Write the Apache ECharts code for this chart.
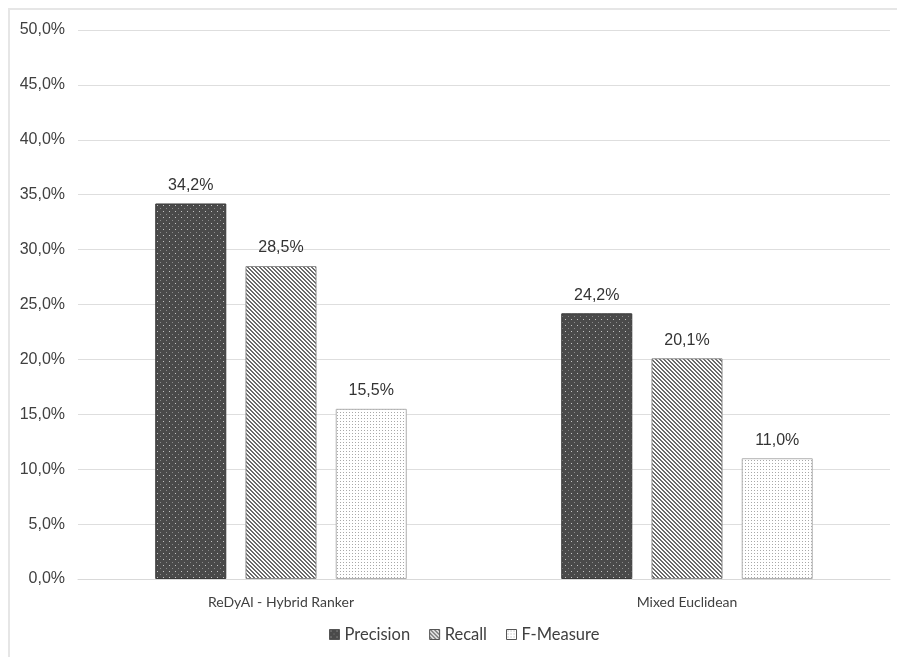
<!DOCTYPE html>
<html><head><meta charset="utf-8">
<script src="https://cdn.jsdelivr.net/npm/echarts@6/dist/echarts.min.js"></script>
<style>html,body{margin:0;padding:0;background:#fff}#c{width:897px;height:657px}</style>
</head><body><div id="c"></div>
<script>
const categories = ['ReDyAl - Hybrid Ranker', 'Mixed Euclidean'];
const seriesNames = ['Precision', 'Recall', 'F-Measure'];
const precision = [34.2, 24.2];
const recall = [28.5, 20.1];
const fmeasure = [15.5, 11.0];
const yTicks = {min: 0, max: 50, interval: 5};

function pat(kind) {
  const c = document.createElement('canvas');
  const ctx = c.getContext('2d');
  if (kind === 'dots') {
    c.width = 6; c.height = 6;
    ctx.fillStyle = '#4a4a4a'; ctx.fillRect(0, 0, 6, 6);
    ctx.fillStyle = '#c4c4c4'; ctx.fillRect(1, 1, 1, 1);
    ctx.fillStyle = '#8a8a8a'; ctx.fillRect(4, 4, 1, 1);
  } else if (kind === 'stripes') {
    c.width = 4; c.height = 4;
    ctx.fillStyle = '#ffffff'; ctx.fillRect(0, 0, 4, 4);
    ctx.fillStyle = '#6b6b6b';
    for (let i = 0; i < 4; i++) { ctx.fillRect(i, i, 1, 1); ctx.fillRect((i + 1) % 4, i, 1, 1); }
  } else {
    c.width = 3; c.height = 3;
    ctx.fillStyle = '#ffffff'; ctx.fillRect(0, 0, 3, 3);
    ctx.fillStyle = '#a8a8a8'; ctx.fillRect(1, 1, 1, 1);
  }
  return {image: c, repeat: 'repeat'};
}

const styles = [
  {color: pat('dots'), borderColor: '#3a3a3a'},
  {color: pat('stripes'), borderColor: '#8c8c8c'},
  {color: pat('fine'), borderColor: '#b0b0b0'}
];
const datasets = [precision, recall, fmeasure];
const fmt = v => v.toFixed(1).replace('.', ',') + '%';

const chart = echarts.init(document.getElementById('c'), null, {renderer: 'canvas'});
chart.setOption({
  animation: false,
  backgroundColor: '#fff',
  graphic: [{type: 'rect', shape: {x: 9, y: 9, width: 895, height: 660}, style: {fill: 'none', stroke: '#e6e6e6', lineWidth: 2}, silent: true}],
  grid: {left: 78, right: 7, top: 30, bottom: 78},
  legend: {
    bottom: 9, left: 324, itemWidth: 10, itemHeight: 10, itemGap: 19,
    textStyle: {fontFamily: 'Lato', fontSize: 16.5, color: '#404040'},
    data: seriesNames.map((n, i) => ({name: n, icon: 'rect', itemStyle: {color: styles[i].color, borderColor: '#555', borderWidth: 1}}))
  },
  xAxis: {
    type: 'category', data: categories,
    axisLine: {lineStyle: {color: '#d9d9d9'}}, axisTick: {show: false},
    axisLabel: {fontFamily: 'Lato', fontSize: 14, color: '#404040', margin: 16}
  },
  yAxis: {
    type: 'value', min: yTicks.min, max: yTicks.max, interval: yTicks.interval,
    axisLine: {show: false}, axisTick: {show: false},
    splitLine: {lineStyle: {color: '#dedede'}},
    axisLabel: {fontFamily: 'Arial', fontSize: 16, color: '#404040', margin: 13, formatter: fmt}
  },
  series: datasets.map((d, i) => ({
    name: seriesNames[i], type: 'bar', data: d,
    barWidth: '17.5%', barGap: '27%',
    itemStyle: {color: styles[i].color, borderColor: styles[i].borderColor, borderWidth: 1},
    label: {show: true, position: 'top', distance: 10, fontFamily: 'Arial', fontSize: 16, color: '#333',
      formatter: p => fmt(p.value)}
  }))
});
</script></body></html>
